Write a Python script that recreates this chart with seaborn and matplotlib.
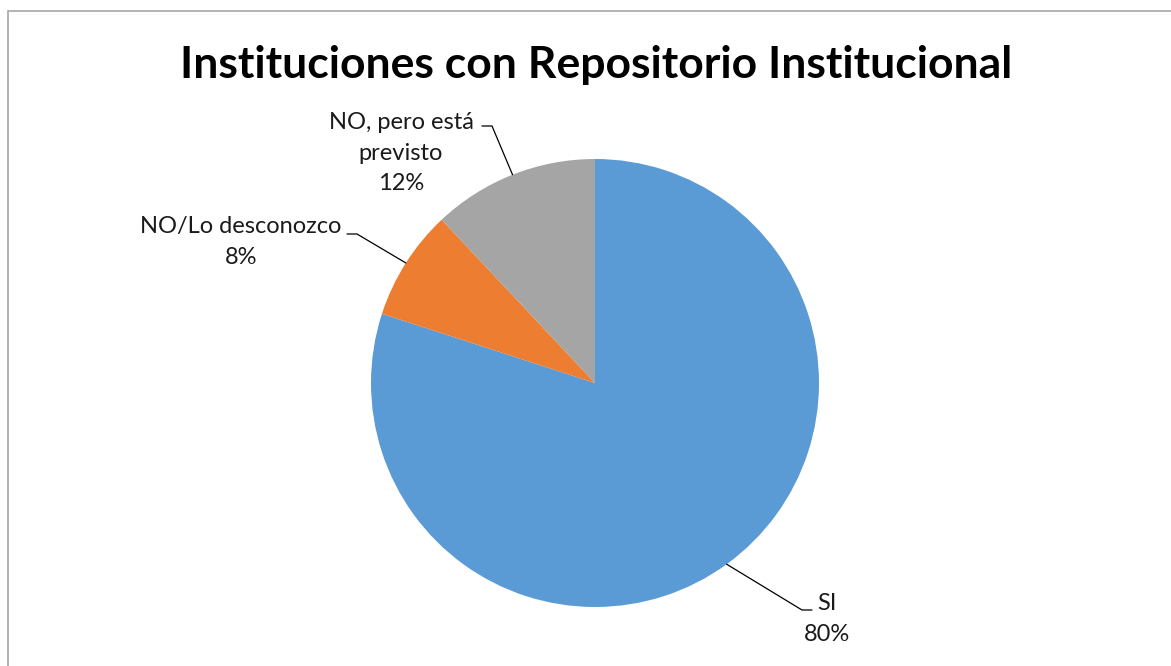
import numpy as np
import matplotlib.pyplot as plt
import seaborn as sns
from matplotlib.patches import Rectangle

# data
categories = ["SI", "NO/Lo desconozco", "NO, pero está\nprevisto"]
values = [80, 8, 12]
colors = sns.color_palette(["#5B9BD5", "#ED7D31", "#A5A5A5"])

# label placement (pixels): elbow of leader line, end of leader line, text anchor
elbows = [(802, 610), (357, 234), (492, 126)]
ends = [(812, 610), (347, 234), (482, 126)]
text_pos = [(827, 619), (241, 242), (401, 153)]

sns.set_style("white")
plt.rcParams["font.family"] = ["Lato", "DejaVu Sans"]

W, H = 1171, 666
fig = plt.figure(figsize=(W / 100, H / 100), dpi=100)
ax = fig.add_axes([0, 0, 1, 1])

# pixel-like data coords, y pointing down -> counterclock in data = clockwise on screen
cx, cy, r = 595, 383, 224
wedges, _ = ax.pie(values, colors=colors, startangle=-90, counterclock=True,
                   center=(cx, cy), radius=r, frame=True,
                   wedgeprops=dict(linewidth=0))
ax.set_xlim(0, W)
ax.set_ylim(H, 0)
ax.set_aspect("equal")
ax.axis("off")

# border
fig.add_artist(Rectangle((8 / W, -0.1), 1.2, 1 - 11 / H + 0.1, transform=fig.transFigure,
                         fill=False, edgecolor="#A6A6A6", linewidth=1.2))

for w, lab, v, el, en, tp in zip(wedges, categories, values, elbows, ends, text_pos):
    mid = np.deg2rad((w.theta1 + w.theta2) / 2)
    px, py = cx + r * np.cos(mid), cy + r * np.sin(mid)
    ax.plot([px, el[0], en[0]], [py, el[1], en[1]], color="black", linewidth=0.9)
    ax.text(tp[0], tp[1], f"{lab}\n{v}%", ha="center", va="center", fontsize=17,
            linespacing=1.58, color="#1a1a1a")

ax.text(596, 65, "Instituciones con Repositorio Institucional", ha="center", va="center",
        fontsize=32, fontweight="bold", color="black")

fig.savefig("out.png", dpi=100, facecolor="white")
